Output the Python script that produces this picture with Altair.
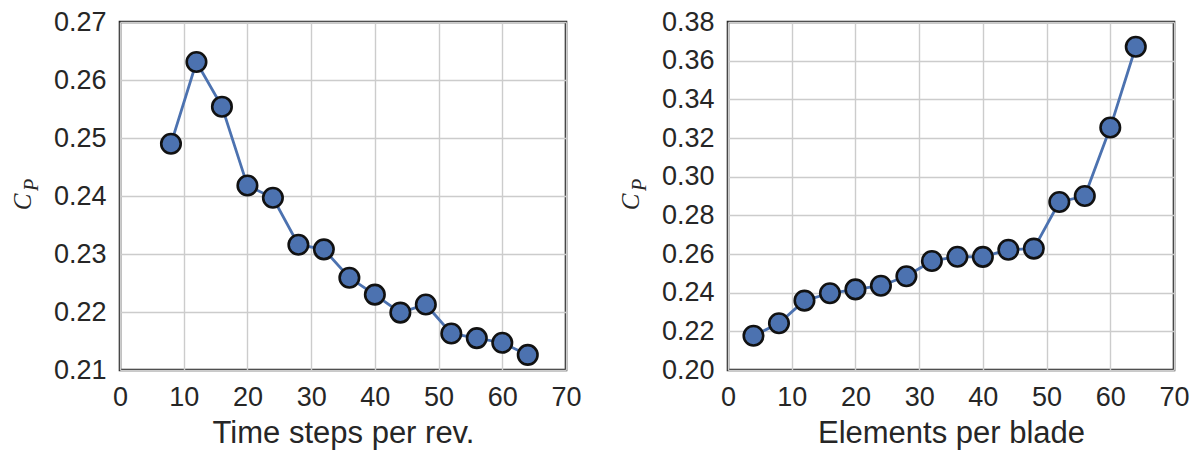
import altair as alt
import pandas as pd

# ---- data ----
time_steps = [8, 12, 16, 20, 24, 28, 32, 36, 40, 44, 48, 52, 56, 60, 64]
cp_time = [0.2490, 0.2631, 0.2554, 0.2418, 0.2397, 0.2316, 0.2308, 0.2259,
           0.2230, 0.2199, 0.2213, 0.2163, 0.2155, 0.2147, 0.2126]

elements = [4, 8, 12, 16, 20, 24, 28, 32, 36, 40, 44, 48, 52, 56, 60, 64]
cp_elem = [0.2177, 0.2242, 0.2359, 0.2397, 0.2417, 0.2436, 0.2485, 0.2564,
           0.2586, 0.2585, 0.2622, 0.2628, 0.2869, 0.2900, 0.3254, 0.3672]

x_ticks = [0, 10, 20, 30, 40, 50, 60, 70]
y_ticks_left = [0.21, 0.22, 0.23, 0.24, 0.25, 0.26, 0.27]
y_ticks_right = [0.20, 0.22, 0.24, 0.26, 0.28, 0.30, 0.32, 0.34, 0.36, 0.38]

x_title_left = "Time steps per rev."
x_title_right = "Elements per blade"

BLUE = "#4C72B0"
TEXT = "#262626"
W, H = 446, 348


def panel(xs, ys, xtitle, yticks):
    df = pd.DataFrame({"x": xs, "cp": ys})
    base = alt.Chart(df).encode(
        x=alt.X("x:Q",
                scale=alt.Scale(domain=[x_ticks[0], x_ticks[-1]], nice=False, zero=False),
                axis=alt.Axis(values=x_ticks, title=xtitle, format="d",
                              labelPadding=14, titleY=72, labelFlush=False,
                              labelOverlap=False, titleBaseline="alphabetic")),
        y=alt.Y("cp:Q",
                scale=alt.Scale(domain=[yticks[0], yticks[-1]], nice=False, zero=False),
                axis=alt.Axis(values=yticks, title=None, format=".2f",
                              labelPadding=14, labelFlush=False,
                              labelOverlap=False)),
    )
    line = base.mark_line(color=BLUE, strokeWidth=2.8)
    pts = base.mark_circle(size=380, color=BLUE, opacity=1,
                           stroke="#111111", strokeWidth=2.6)
    c_txt = alt.Chart(pd.DataFrame({"t": ["C"]})).mark_text(
        angle=270, align="center", baseline="alphabetic",
        font="Liberation Serif", fontStyle="italic", fontSize=25, color=TEXT
    ).encode(text="t:N", x=alt.value(-89), y=alt.value(180))
    p_txt = alt.Chart(pd.DataFrame({"t": ["P"]})).mark_text(
        angle=270, align="center", baseline="alphabetic",
        font="Liberation Serif", fontStyle="italic", fontSize=20, color=TEXT
    ).encode(text="t:N", x=alt.value(-82), y=alt.value(163))
    return alt.layer(line, pts, c_txt, p_txt).properties(width=W, height=H)


left = panel(time_steps, cp_time, x_title_left, y_ticks_left)
right = panel(elements, cp_elem, x_title_right, y_ticks_right)

chart = alt.hconcat(left, right, spacing=162, bounds="flush").properties(
    autosize=alt.AutoSizeParams(type="none"),
    padding={"left": 112, "top": 14, "right": 1071, "bottom": 424},
).configure_view(
    stroke=TEXT, strokeWidth=2.6
).configure_axis(
    grid=True, gridColor="#cccccc", gridWidth=1.4,
    domain=False, ticks=False,
    labelFont="Liberation Sans", labelFontSize=27, labelColor=TEXT,
    titleFont="Liberation Sans", titleFontSize=31, titleColor=TEXT,
    titleFontWeight="normal",
)

chart.save("out.html", embed_options={"renderer": "svg", "actions": False})
